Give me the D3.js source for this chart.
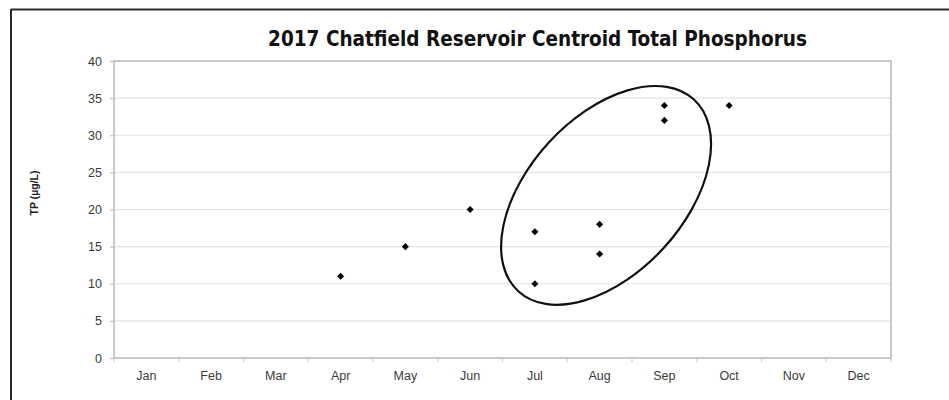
<!DOCTYPE html>
<html>
<head>
<meta charset="utf-8">
<script src="https://cdn.jsdelivr.net/npm/d3@7"></script>
<style>
  html, body { margin: 0; padding: 0; background: #fff; }
  svg { display: block; }
</style>
</head>
<body>
<svg id="chart" width="949" height="400"></svg>
<script>
// Monthly categories and y-axis ticks
const months = ["Jan","Feb","Mar","Apr","May","Jun","Jul","Aug","Sep","Oct","Nov","Dec"];
const yTicks = [0, 5, 10, 15, 20, 25, 30, 35, 40];

// Total phosphorus samples (µg/L) by month
const sampleMonths = ["Apr","May","Jun","Jul","Jul","Aug","Aug","Sep","Sep","Oct"];
const tpValues     = [11,   15,   20,   17,   10,   18,   14,   34,   32,   34];

// Highlighted group of summer samples (ellipse centre in data terms)
const highlightCenterMonth = "Aug";
const highlightCenterValue = 21.9;

const svg = d3.select("#chart");
const W = 949, H = 400;
const plot = { left: 114, right: 891, top: 61, bottom: 358 };
const labelFont = "Arial, 'Liberation Sans', Helvetica, sans-serif";

// Outer frame: top and left edges only
svg.append("line").attr("x1", 11).attr("x2", W).attr("y1", 9.5).attr("y2", 9.5)
  .attr("stroke", "#2a2a2a").attr("stroke-width", 2);
svg.append("line").attr("x1", 11).attr("x2", 11).attr("y1", 9).attr("y2", H)
  .attr("stroke", "#2a2a2a").attr("stroke-width", 2);

const x = d3.scaleBand().domain(months).range([plot.left, plot.right]).padding(0);
const y = d3.scaleLinear().domain([0, 40]).range([plot.bottom, plot.top]);

// Gridlines
svg.append("g").selectAll("line").data(yTicks.filter(v => v > 0 && v < 40)).join("line")
  .attr("x1", plot.left).attr("x2", plot.right)
  .attr("y1", d => y(d)).attr("y2", d => y(d))
  .attr("stroke", "#e3e3e3").attr("stroke-width", 1.2);

// Plot frame
svg.append("rect")
  .attr("x", plot.left).attr("y", plot.top)
  .attr("width", plot.right - plot.left).attr("height", plot.bottom - plot.top)
  .attr("fill", "none").attr("stroke", "#b8b8b8").attr("stroke-width", 1.5);

// Y axis
const yAxis = svg.append("g").attr("transform", `translate(${plot.left},0)`)
  .call(d3.axisLeft(y).tickValues(yTicks).tickSize(4).tickPadding(8));
yAxis.select(".domain").remove();
yAxis.selectAll("line").attr("stroke", "#b8b8b8");
yAxis.selectAll("text").attr("fill", "#3a3a3a")
  .style("font-family", labelFont).style("font-size", "12.5px");

// X axis: ticks on category boundaries, labels centred in each band
const xg = svg.append("g").attr("transform", `translate(0,${plot.bottom})`);
const bounds = months.map(m => x(m)).concat([plot.right]);
xg.selectAll("line").data(bounds).join("line")
  .attr("x1", d => d).attr("x2", d => d).attr("y1", 0).attr("y2", 4)
  .attr("stroke", "#c8c8c8").attr("stroke-width", 1);
xg.selectAll("text").data(months).join("text")
  .attr("x", d => x(d) + x.bandwidth() / 2).attr("y", 22)
  .attr("text-anchor", "middle").attr("fill", "#3a3a3a")
  .style("font-family", labelFont).style("font-size", "12.5px")
  .text(d => d);

// Y axis title
svg.append("text")
  .attr("transform", "translate(38,193) rotate(-90)")
  .attr("text-anchor", "middle").attr("fill", "#222")
  .style("font-family", labelFont)
  .style("font-size", "10.5px").style("font-weight", "bold")
  .text("TP (µg/L)");

// Chart title
const title = svg.append("text")
  .attr("x", 537.5).attr("y", 46).attr("text-anchor", "middle").attr("fill", "#111")
  .style("font-family", "'Liberation Sans Narrow', 'Arial Narrow', 'DejaVu Sans Condensed', sans-serif")
  .style("font-size", "22px").style("font-weight", "bold")
  .text("2017 Chatfield Reservoir Centroid Total Phosphorus");
const tl = title.node().getComputedTextLength();
if (tl > 0) title.style("font-size", (22 * 539 / tl).toFixed(2) + "px");

// Highlight ellipse around the Jul–Sep samples
const cx = x(highlightCenterMonth) + x.bandwidth() * 0.6;
const cy = y(highlightCenterValue);
svg.append("ellipse")
  .attr("cx", 0).attr("cy", 0).attr("rx", 130).attr("ry", 78)
  .attr("transform", `translate(${cx},${cy}) rotate(-47.5)`)
  .attr("fill", "none").attr("stroke", "#111").attr("stroke-width", 2.2);

// Sample markers (diamonds)
const diamond = d3.symbol().type(d3.symbolSquare).size(25);
svg.append("g").selectAll("path").data(tpValues).join("path")
  .attr("d", diamond)
  .attr("transform", (d, i) => `translate(${x(sampleMonths[i]) + x.bandwidth() / 2},${y(d)}) rotate(45)`)
  .attr("fill", "#000");
</script>
</body>
</html>
